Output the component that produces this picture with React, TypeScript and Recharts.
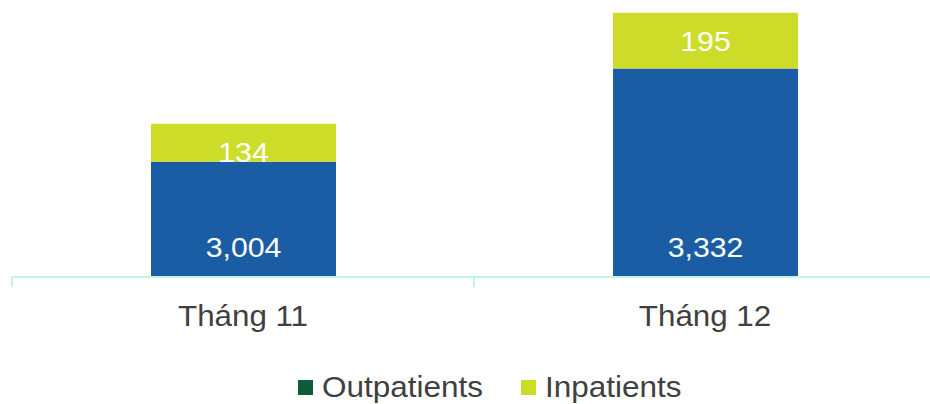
import { Bar, BarChart, LabelList, Legend, XAxis, YAxis } from "recharts";

const months = ["Tháng 11", "Tháng 12"];
const outpatients = [3004, 3332];
const inpatients = [134, 195];

const seriesNames = { out: "Outpatients", in: "Inpatients" };

const colors = {
  out: "#1a5da5",
  outLegend: "#0c5e39",
  inp: "#cddc29",
  axis: "#bff6df",
  text: "#404040",
};

const data = months.map((m, i) => ({ month: m, out: outpatients[i], inp: inpatients[i] }));

const W = 936;
const H = 404;
const PLOT_BOTTOM = 277;
const HALF_BAND = 231;
const FONT = "'Liberation Sans', Arial, sans-serif";
const STRETCH = 1.08;

function Stretched({ x, y, size, fill, children }: { x: number; y: number; size: number; fill: string; children: any }) {
  return (
    <text
      transform={`translate(${x},${y}) scale(${STRETCH},1)`}
      textAnchor="middle"
      fontFamily={FONT}
      fontSize={size}
      fill={fill}
    >
      {children}
    </text>
  );
}

function MonthTick(props: any) {
  const { x, payload, index } = props;
  const last = index === months.length - 1;
  return (
    <g>
      <line x1={x - HALF_BAND} x2={x - HALF_BAND} y1={PLOT_BOTTOM} y2={PLOT_BOTTOM + 10} stroke={colors.axis} strokeWidth={2} />
      {last && (
        <line x1={x + HALF_BAND} x2={x + HALF_BAND} y1={PLOT_BOTTOM} y2={PLOT_BOTTOM + 10} stroke={colors.axis} strokeWidth={2} />
      )}
      <Stretched x={x} y={326} size={29} fill={colors.text}>
        {payload.value}
      </Stretched>
    </g>
  );
}

// outpatient values sit near the axis, the bar runs below the cut-off domain
function OutLabel(props: any) {
  const { x, width, value } = props;
  return (
    <Stretched x={x + width / 2} y={PLOT_BOTTOM - 20.5} size={28} fill="#ffffff">
      {Number(value).toLocaleString("en-US")}
    </Stretched>
  );
}

function InLabel(props: any) {
  const { x, y, width, height, value } = props;
  return (
    <Stretched x={x + width / 2} y={y + Math.max(height / 2 + 10, 38)} size={28} fill="#ffffff">
      {Number(value).toLocaleString("en-US")}
    </Stretched>
  );
}

function LegendBox() {
  const items = [
    { name: seriesNames.out, color: colors.outLegend, x: 298 },
    { name: seriesNames.in, color: colors.inp, x: 521 },
  ];
  return (
    <svg width={930} height={40} style={{ display: "block" }}>
      {items.map((it) => (
        <g key={it.name}>
          <rect x={it.x} y={16} width={15} height={15} fill={it.color} />
          <text
            transform={`translate(${it.x + 24},33) scale(1.05,1)`}
            fontFamily={FONT}
            fontSize={30}
            fill={colors.text}
          >
            {it.name}
          </text>
        </g>
      ))}
    </svg>
  );
}

export default function App() {
  return (
    <div style={{ position: "absolute", left: 0, top: 0, width: 930, height: H, overflow: "hidden", background: "#fff" }}>
      <BarChart width={W} height={H} data={data} margin={{ top: 0, right: 0, left: 12, bottom: 77 }}>
        <XAxis
          dataKey="month"
          height={50}
          axisLine={{ stroke: colors.axis, strokeWidth: 2 }}
          tickLine={false}
          tick={<MonthTick />}
          interval={0}
        />
        <YAxis hide domain={[2600, 3572]} allowDataOverflow />
        <Legend
          layout="horizontal"
          verticalAlign="middle"
          align="center"
          wrapperStyle={{ top: 364, left: 0, width: 930, height: 40 }}
          content={() => <LegendBox />}
        />
        <Bar dataKey="out" name={seriesNames.out} stackId="a" fill={colors.out} barSize={185} isAnimationActive={false}>
          <LabelList dataKey="out" content={<OutLabel />} />
        </Bar>
        <Bar dataKey="inp" name={seriesNames.in} stackId="a" fill={colors.inp} barSize={185} isAnimationActive={false}>
          <LabelList dataKey="inp" content={<InLabel />} />
        </Bar>
      </BarChart>
    </div>
  );
}
